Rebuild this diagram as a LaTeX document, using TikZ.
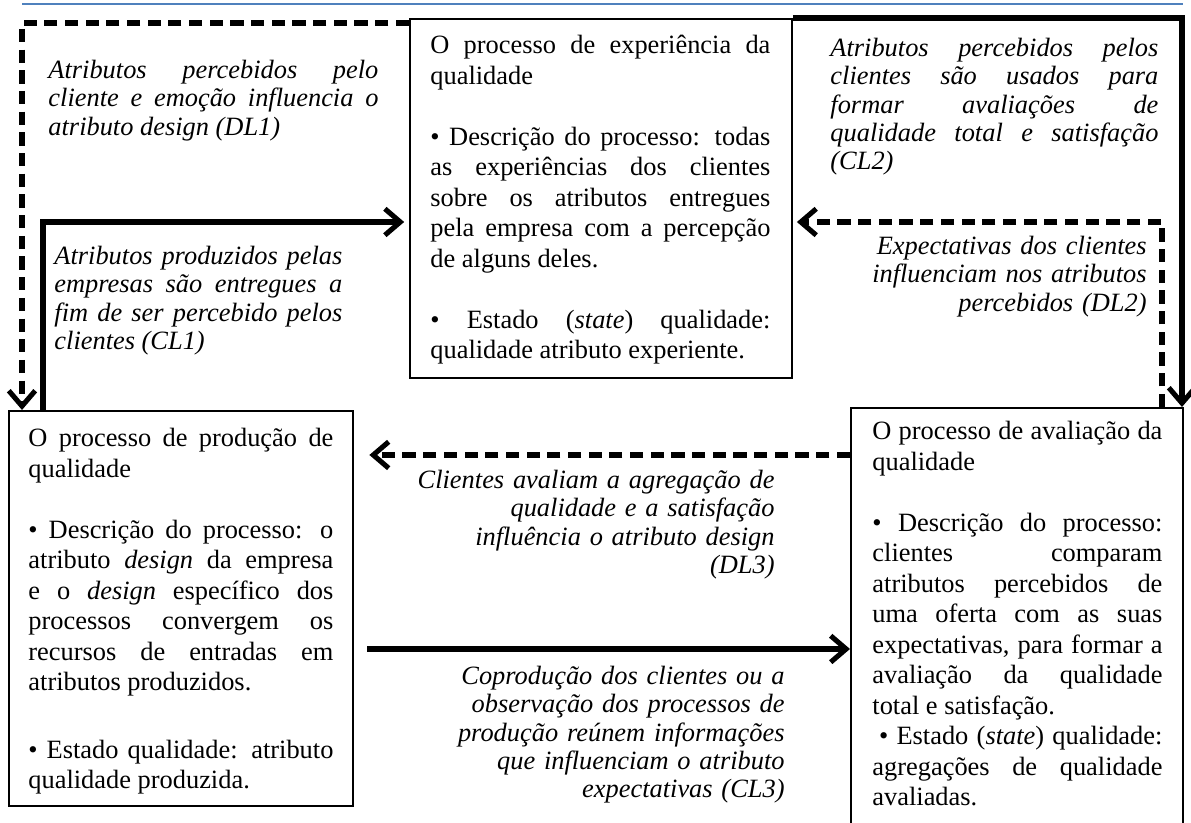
\documentclass[tikz,border=0pt]{standalone}
\usepackage{fontspec}
\setmainfont{Liberation Serif}
\usetikzlibrary{arrows.meta,calc}
\newdimen\pxu \pxu=0.4545pt
\definecolor{rulecol}{RGB}{79,129,189}
\tolerance=10000 \hbadness=10000 \hfuzz=4pt \hyphenpenalty=10000
\setlength{\parskip}{0pt}
\tikzset{
  procbox/.style={draw, line width=0.9pt, inner sep=0pt, anchor=north west},
  boxtext/.style={anchor=base west, inner sep=0pt, align=justify,
    font=\fontsize{12pt}{13.86pt}\selectfont},
  lbl/.style={inner sep=0pt, font=\fontsize{12pt}{12.73pt}\selectfont\itshape},
  link/.style={line width=2.3pt, line join=miter,
    -{Straight Barb[length=7pt,width=12pt]}},
  solidlink/.style={link},
  dashlink/.style={link, dash pattern=on 6pt off 3.4pt},
}
\begin{document}
\begin{tikzpicture}[x=\pxu,y=-\pxu]
\useasboundingbox (0,0) rectangle (1191,823);

% header rule
\draw[rulecol, line width=0.8pt] (22,4.3) -- (1183,4.3);

% the three process boxes
\node[procbox, minimum width=382\pxu, minimum height=359\pxu] (exp) at (409,18) {};
\node[procbox, minimum width=344\pxu, minimum height=395\pxu] (prod) at (8,410) {};
\node[procbox, minimum width=332\pxu, minimum height=440\pxu] (aval) at (850,407) {};

% box contents
\node[boxtext, text width=340\pxu] (exptext) at (430,54) {%
O processo de experiência da\linebreak qualidade\par\vspace{\baselineskip}
• Descrição do processo: todas\linebreak as experiências dos clientes\linebreak sobre os atributos entregues\linebreak pela empresa com a percepção\linebreak de alguns deles.\par\vspace{\baselineskip}
• Estado (\textit{state}) qualidade:\linebreak qualidade atributo experiente.};

\node[boxtext, text width=305\pxu] (prodtext) at (28,447) {%
O processo de produção de\linebreak qualidade\par\vspace{\baselineskip}
• Descrição do processo: o\linebreak atributo \textit{design} da empresa\linebreak e o \textit{design} específico dos\linebreak processos convergem os\linebreak recursos de entradas em\linebreak atributos produzidos.\par\vspace{1.2\baselineskip}
• Estado qualidade: atributo\linebreak qualidade produzida.};

\node[boxtext, text width=290\pxu] (avaltext) at (872,440) {%
O processo de avaliação da\linebreak qualidade\par\vspace{\baselineskip}
• Descrição do processo:\linebreak clientes comparam\linebreak atributos percebidos de\linebreak uma oferta com as suas\linebreak expectativas, para formar a\linebreak avaliação da qualidade\linebreak total e satisfação.\par
\hspace*{0.25em}• Estado (\textit{state}) qualidade:\linebreak agregações de qualidade\linebreak avaliadas.};

% connectors
\coordinate (dl1) at (22,23);
\draw[dashlink] (exp.west |- dl1) -- (dl1) -- (prod.north -| dl1);

\coordinate (cl1) at (43,222);
\draw[solidlink, shorten >=2.2pt] (prod.north -| cl1) |- (exp.west |- cl1);

\coordinate (cl2) at (1182,18);
\draw[solidlink] (exp.north east) -| (aval.north -| cl2);

\coordinate (dl2) at (1162,222);
\draw[dashlink, shorten >=1.8pt] (aval.north -| dl2) |- (exp.east |- dl2);

\coordinate (dl3) at (600,455);
\draw[dashlink, shorten >=7pt] (aval.west |- dl3) -- (prod.east |- dl3);

\coordinate (cl3) at (600,649);
\draw[solidlink, shorten <=6pt] (prod.east |- cl3) -- (aval.west |- cl3);

% connector labels
\node[lbl, anchor=base west, text width=330\pxu, align=justify] (dl1lbl) at (48,79)
  {Atributos percebidos pelo\linebreak cliente e emoção influencia o\linebreak atributo design (DL1)};
\node[lbl, anchor=base west, text width=288\pxu, align=justify] (cl1lbl) at (54,265)
  {Atributos produzidos pelas\linebreak empresas são entregues a\linebreak fim de ser percebido pelos\linebreak clientes (CL1)};
\node[lbl, anchor=base west, text width=328\pxu, align=justify] (cl2lbl) at (830,57)
  {Atributos percebidos pelos\linebreak clientes são usados para\linebreak formar avaliações de\linebreak qualidade total e satisfação\linebreak (CL2)};
\node[lbl, anchor=base east, text width=300\pxu, align=right] (dl2lbl) at (1147,255)
  {Expectativas dos clientes\\ influenciam nos atributos\\ percebidos (DL2)};
\node[lbl, anchor=base east, text width=380\pxu, align=right] (dl3lbl) at (775,489)
  {Clientes avaliam a agregação de\\ qualidade e a satisfação\\ influência o atributo design\\ (DL3)};
\node[lbl, anchor=base east, text width=380\pxu, align=right] (cl3lbl) at (785,685)
  {Coprodução dos clientes ou a\\ observação dos processos de\\ produção reúnem informações\\ que influenciam o atributo\\ expectativas (CL3)};
\end{tikzpicture}
\end{document}
